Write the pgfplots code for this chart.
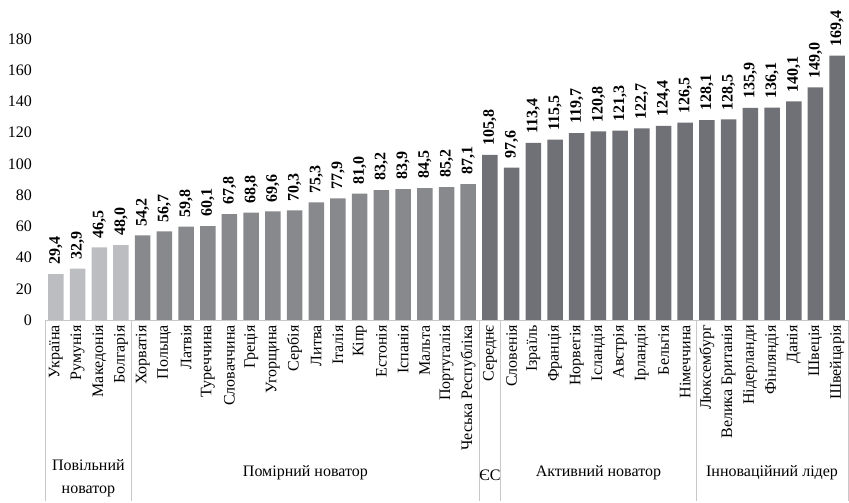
\documentclass[border=0pt]{standalone}
\usepackage{fontspec}
\setmainfont{Liberation Serif}
\usepackage{pgfplots}
\pgfplotsset{compat=1.18}

\definecolor{barslow}{RGB}{188,189,193}
\definecolor{barmod}{RGB}{136,137,141}
\definecolor{bardark}{RGB}{112,113,118}
\definecolor{boxline}{RGB}{200,200,202}

\begin{document}
\fontsize{16}{18}\selectfont
\begin{tikzpicture}
\begin{axis}[
    scale only axis,
    width=803pt, height=320pt,
    xmin=-0.5, xmax=36.5,
    ymin=0, ymax=205,
    axis lines=left,
    axis line style={draw=none,-},
    major tick length=0pt,
    clip=false,
    /pgf/number format/assume math mode=true,
    ytick={0,20,...,180},
    yticklabel style={anchor=east, inner sep=0pt, xshift=-13pt, font=\fontsize{16}{18}\selectfont},
    xtick={0,...,36},
    xticklabels={Україна,Румунія,Македонія,Болгарія,
        Хорватія,Польща,Латвія,Туреччина,Словаччина,Греція,Угорщина,Сербія,
        Литва,Італія,Кіпр,Естонія,Іспанія,Мальта,Португалія,Чеська Республіка,
        Середнє,
        Словенія,Ізраїль,Франція,Норвегія,Ісландія,Австрія,Ірландія,Бельгія,Німеччина,
        Люксембург,Велика Британія,Нідерланди,Фінляндія,Данія,Швеція,Швейцарія},
    xticklabel style={rotate=90, anchor=east, inner ysep=0pt, inner xsep=5pt, font=\fontsize{16}{18}\selectfont},
    ybar,
    bar width=15.5pt,
    nodes near coords={\bfseries\pgfmathprintnumber[fixed,fixed zerofill,precision=1,use comma]{\pgfplotspointmeta}},
    nodes near coords style={rotate=90, anchor=west, inner xsep=9pt, inner ysep=0pt, font=\fontsize{16}{18}\selectfont},
]
% повільні новатори
\addplot[fill=barslow, draw=none, bar shift=0pt] coordinates {
    (0,29.4) (1,32.9) (2,46.5) (3,48.0)};
% помірні новатори
\addplot[fill=barmod, draw=none, bar shift=0pt] coordinates {
    (4,54.2) (5,56.7) (6,59.8) (7,60.1) (8,67.8) (9,68.8) (10,69.6) (11,70.3)
    (12,75.3) (13,77.9) (14,81.0) (15,83.2) (16,83.9) (17,84.5) (18,85.2) (19,87.1)};
% ЄС, активні новатори, лідери
\addplot[fill=bardark, draw=none, bar shift=0pt] coordinates {
    (20,105.8)
    (21,97.6) (22,113.4) (23,115.5) (24,119.7) (25,120.8) (26,121.3) (27,122.7) (28,124.4) (29,126.5)
    (30,128.1) (31,128.5) (32,135.9) (33,136.1) (34,140.1) (35,149.0) (36,169.4)};

% рамка груп
\draw[boxline, line width=0.9pt] (axis cs:-0.5,0) -- (axis cs:36.5,0);
\draw[boxline, line width=0.9pt] (axis cs:-0.5,0) -- ++(0pt,-181pt);
\draw[boxline, line width=0.9pt] (axis cs:3.5,0) -- ++(0pt,-181pt);
\draw[boxline, line width=0.9pt] (axis cs:19.5,0) -- ++(0pt,-181pt);
\draw[boxline, line width=0.9pt] (axis cs:20.5,0) -- ++(0pt,-181pt);
\draw[boxline, line width=0.9pt] (axis cs:29.5,0) -- ++(0pt,-181pt);
\draw[boxline, line width=0.9pt] (axis cs:36.5,0) -- ++(0pt,-181pt);

\node[align=center, font=\fontsize{16}{23}\selectfont] at ([yshift=-158.5pt]axis cs:1.5,0) {Повільний\\новатор};
\node at ([yshift=-153pt]axis cs:11.5,0) {Помірний новатор};
\node[inner sep=0pt] at ([yshift=-155pt]axis cs:20,0) {ЄС};
\node at ([yshift=-153pt]axis cs:25,0) {Активний новатор};
\node at ([yshift=-153pt]axis cs:33,0) {Інноваційний лідер};

% межі малюнка
\path (axis cs:-0.5,0) ++(-45pt,0pt);
\path (axis cs:36.5,0) ++(1pt,0pt);
\end{axis}
\end{tikzpicture}
\end{document}
